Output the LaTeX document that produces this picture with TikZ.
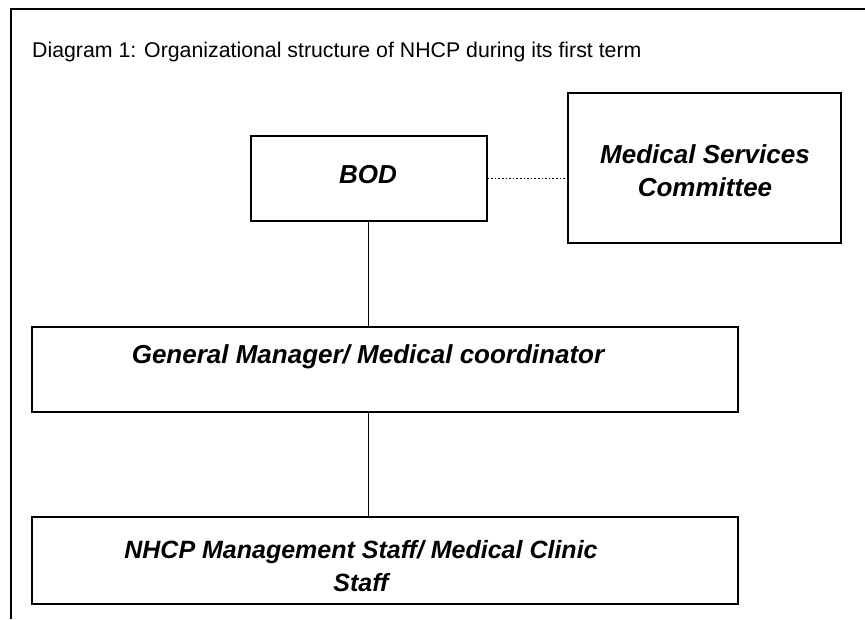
\documentclass[tikz,border=0pt]{standalone}
\usepackage{fontspec}
\setmainfont{Liberation Sans}
\begin{document}
\begin{tikzpicture}[x=1pt,y=-1pt,
  unit/.style={draw,line width=2pt,inner sep=0pt},
  caption/.style={font=\fontsize{26}{33}\selectfont\bfseries\itshape,align=center}]
\useasboundingbox (0,0) rectangle (865,619);
% open frame round the chart
\draw[line width=2pt] (865,9) -- (11,9) -- (11,619);
\node[anchor=base west,font=\fontsize{21.3}{25}\selectfont,inner sep=0pt] (title) at (32,57)
  {Diagram 1: Organizational structure of NHCP during its first term};
% boxes
\node[unit,minimum width=236pt,minimum height=85pt] (bod) at (368.5,178.5) {};
\node[unit,minimum width=273pt,minimum height=150pt] (msc) at (704.5,168) {};
\node[unit,minimum width=706pt,minimum height=85pt] (gm) at (385,369.5) {};
\node[unit,minimum width=706pt,minimum height=87pt] (staff) at (385,560.5) {};
% texts in the boxes
\node[caption] (bodtext) at (368,175) {BOD};
\node[caption] (msctext) at (705,171) {Medical Services\\Committee};
\node[caption] (gmtext) at (368,357) {General Manager/ Medical coordinator};
\node[caption,font=\fontsize{25}{33}\selectfont\bfseries\itshape] (stafftext) at (361,566)
  {NHCP Management Staff/ Medical Clinic\\Staff};
% links
\draw[line width=1.6pt,dotted] (bod.east) -- (bod.east -| msc.west);
\draw[line width=1.6pt] (bod.south) -- (bod.south |- gm.north);
\draw[line width=1.6pt] (bod.south |- gm.south) -- (bod.south |- staff.north);
\end{tikzpicture}
\end{document}
